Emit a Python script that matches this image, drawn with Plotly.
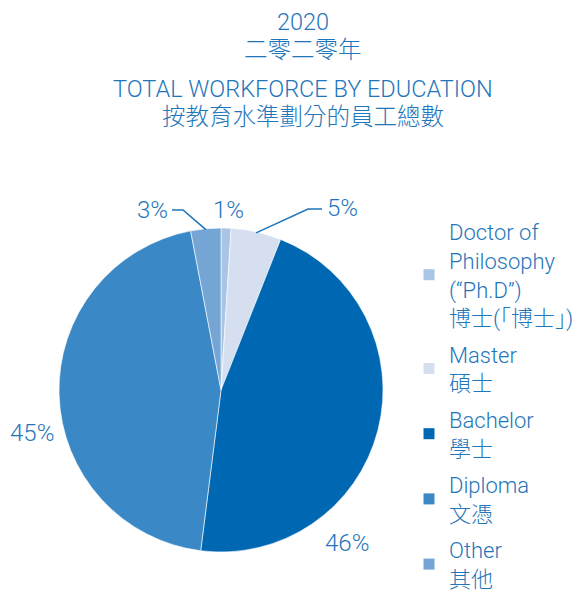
import math
import plotly.graph_objects as go

# ---- data ----
labels_en = ["Doctor of<br>Philosophy<br>(“Ph.D”)", "Master", "Bachelor", "Diploma", "Other"]
labels_zh = ["博士(「博士」)", "碩士", "學士", "文憑", "其他"]
values = [1, 5, 46, 45, 3]
pct_text = ["1%", "5%", "46%", "45%", "3%"]
colors = ["#a9c4e4", "#d5dff0", "#0068b3", "#3a88c5", "#74a5d5"]

W, H = 586, 591
OFF = 8  # default page body margin
TXT = "#1f76bb"
FONT = "Roboto, 'Noto Sans CJK TC', sans-serif"


def px(x):
    return (x - OFF) / W


def py(y):
    return 1 - (y - OFF) / H


# pie geometry (page pixels)
cx, cy, R = 221, 390, 162

legend_labels = [f"{e}<br>{z}" for e, z in zip(labels_en, labels_zh)]

fig = go.Figure()
fig.add_trace(go.Pie(
    labels=legend_labels,
    values=values,
    marker=dict(colors=colors, line=dict(color="white", width=0.6)),
    sort=False,
    direction="clockwise",
    rotation=0,
    textinfo="none",
    hoverinfo="label+percent",
    showlegend=False,
    domain=dict(x=[px(cx - R), px(cx + R)], y=[py(cy + R), py(cy - R)]),
))

# legend entries (one per category, so spacing between them can be set)
for i, (lab, col) in enumerate(zip(legend_labels, colors)):
    fig.add_trace(go.Scatter(
        x=[None], y=[None], mode="markers", name=lab,
        marker=dict(symbol="square", size=11, color=col),
        legendgroup=f"g{i}", showlegend=True, hoverinfo="skip",
    ))

# mid angles (degrees clockwise from 12 o'clock)
total = sum(values)
mids = []
acc = 0
for v in values:
    mids.append((acc + v / 2) / total * 360)
    acc += v


def edge_point(angle_deg, r):
    a = math.radians(angle_deg)
    return cx + r * math.sin(a), cy - r * math.cos(a)


annotations = []
shapes = []

# label placement (page pixels): (x, y, anchor)
label_pos = {
    "1%": (228, 210, "center"),
    "5%": (325, 208, "left"),
    "46%": (347, 543, "center"),
    "45%": (32, 433, "center"),
    "3%": (170, 210, "right"),
}
for t in pct_text:
    x, y, anc = label_pos[t]
    annotations.append(dict(x=px(x), y=py(y), xref="paper", yref="paper", text=t,
                            showarrow=False, xanchor=anc, yanchor="middle",
                            font=dict(size=24, color=TXT, family=FONT, weight=300)))

# leader lines for 3% and 5%
ex, ey = edge_point(mids[4], R - 1)
path3 = f"M {px(ex)},{py(ey)} L {px(183)},{py(210)} L {px(172)},{py(210)}"
ex, ey = edge_point(mids[1], R - 1)
path5 = f"M {px(ex)},{py(ey)} L {px(308)},{py(209)} L {px(322)},{py(209)}"
for p in (path3, path5):
    shapes.append(dict(type="path", path=p, xref="paper", yref="paper",
                       line=dict(color=TXT, width=1.6)))

titles = [("2020", 22), ("二零二零年", 50), ("TOTAL WORKFORCE BY EDUCATION", 89), ("按教育水準劃分的員工總數", 117)]
for t, y in titles:
    annotations.append(dict(x=px(303), y=py(y), xref="paper", yref="paper", text=t,
                            showarrow=False, xanchor="center", yanchor="middle",
                            font=dict(size=23.5, color=TXT, family=FONT, weight=300)))

fig.update_layout(
    width=W, height=H,
    margin=dict(l=0, r=0, t=0, b=0, autoexpand=False),
    paper_bgcolor="white",
    plot_bgcolor="white",
    xaxis=dict(visible=False),
    yaxis=dict(visible=False),
    showlegend=True,
    legend=dict(x=px(409), y=py(211), xanchor="left", yanchor="top",
                font=dict(size=22, color=TXT, family=FONT, weight=300),
                bgcolor="rgba(0,0,0,0)", traceorder="grouped", tracegroupgap=5),
    annotations=annotations,
    shapes=shapes,
)

fig.write_html("out.html")
